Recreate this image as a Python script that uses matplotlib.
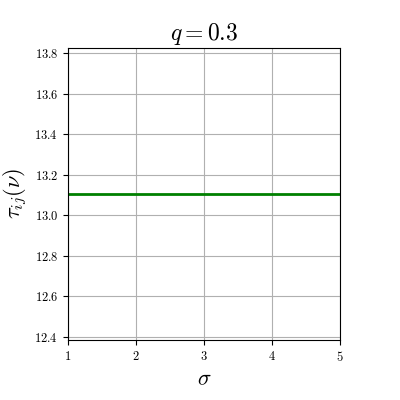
import numpy as np
import matplotlib
matplotlib.use("Agg")
import matplotlib.pyplot as plt

plt.rcParams['font.family'] = 'serif'
plt.rcParams['font.serif'] = ['cmr10']
plt.rcParams['mathtext.fontset'] = 'cm'
plt.rcParams['axes.formatter.use_mathtext'] = True

q = 0.3
sigma = [1, 2, 3, 4, 5]
tau = [13.106, 13.106, 13.106, 13.106, 13.106]

fig, ax = plt.subplots(figsize=(4, 4), dpi=100)
fig.subplots_adjust(left=0.17, right=0.85, bottom=0.15, top=0.88)
ax.plot(sigma, tau, color='g', linewidth=2)
ax.set_xlim(1, 5)
ax.set_xticks([1, 2, 3, 4, 5])
ax.grid(True)
ax.tick_params(labelsize=9)
ax.set_xlabel(r'$\sigma$', fontsize=16)
ax.set_ylabel(r'$\tau_{ij}(\nu)$', fontsize=16)
ax.set_title(r'$q = %s$' % q, fontsize=17)
fig.savefig('out.png')
